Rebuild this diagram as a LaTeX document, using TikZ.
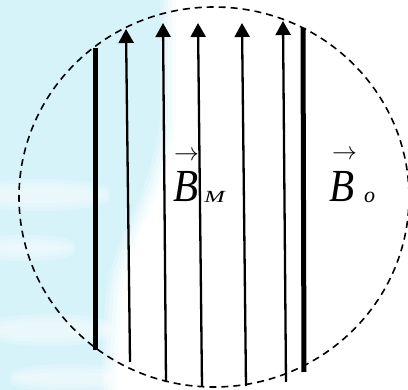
\documentclass[tikz,border=0pt]{standalone}
\usepackage{fontspec}
\setmainfont{Liberation Serif}
\usetikzlibrary{arrows.meta}
\definecolor{bgcyan}{HTML}{D6F3FA}
\tikzset{
  fieldline/.style={line width=2.3pt, -{Triangle[length=14pt,width=15pt]}},
  thickline/.style={line width=5pt},
  boundary/.style={line width=1.6pt, dash pattern=on 7pt off 5pt},
  lbl/.style={font=\itshape\fontsize{41}{41}\selectfont, inner sep=0pt, anchor=base west},
  sub/.style={font=\itshape\fontsize{17}{17}\selectfont, inner sep=0pt, anchor=base west},
  vecarrow/.style={font=\fontsize{27}{27}\selectfont, inner sep=0pt, anchor=base west}
}
\begin{document}
\begin{tikzpicture}[x=1pt,y=-1pt]
\useasboundingbox (0,0) rectangle (408,390);
\fill[white] (0,0) rectangle (408,390);
% watermark background
\foreach \o/\op in {16/0.15,12/0.2,8/0.3,4/0.45,0/1}{
  \fill[bgcyan, opacity=\op] (0,0) -- (160+\o,0) -- (160+\o,120)
     .. controls (150+\o,200) and (110+\o,240) .. (105+\o,300) -- (100+\o,390) -- (0,390) -- cycle;
}
\foreach \dy/\op in {0/0.25,4/0.2,-4/0.2}{
  \fill[white, opacity=\op] (40,195+\dy) ellipse [x radius=70, y radius=12];
  \fill[white, opacity=\op] (25,248+\dy) ellipse [x radius=50, y radius=9];
  \fill[white, opacity=\op] (50,330+\dy) ellipse [x radius=65, y radius=12];
  \fill[white, opacity=\op] (70,378+\dy) ellipse [x radius=60, y radius=10];
}
% boundary
\draw[boundary] (214,197) ellipse [x radius=195, y radius=190];
% field lines
\coordinate (t1) at (95.7,48);  \coordinate (b1) at (95.7,350);
\coordinate (t2) at (126,29);   \coordinate (b2) at (130,362);
\coordinate (t3) at (163,23);   \coordinate (b3) at (166,382);
\coordinate (t4) at (198,23);   \coordinate (b4) at (202,386);
\coordinate (t5) at (242,23);   \coordinate (b5) at (246,386);
\coordinate (t6) at (283,21);   \coordinate (b6) at (286,382);
\coordinate (t7) at (303,28);   \coordinate (b7) at (304,372);
\draw[thickline] (b1) -- (t1);
\draw[fieldline] (b2) -- (t2);
\draw[fieldline] (b3) -- (t3);
\draw[fieldline] (b4) -- (t4);
\draw[fieldline] (b5) -- (t5);
\draw[fieldline] (b6) -- (t6);
\draw[thickline] (b7) -- (t7);
% labels
\node[lbl, yscale=1.12, transform shape] (BM) at (173,202) {B};
\node[sub, xscale=1.45, transform shape] (BMs) at (204,203) {M};
\node[vecarrow] (BMa) at (174,161) {$\rightarrow$};
\node[lbl, yscale=1.12, transform shape] (BO) at (329,202) {B};
\node[sub, font=\itshape\fontsize{22}{22}\selectfont] (BOs) at (364,203) {o};
\node[vecarrow] (BOa) at (332,160) {$\rightarrow$};
\end{tikzpicture}
\end{document}
